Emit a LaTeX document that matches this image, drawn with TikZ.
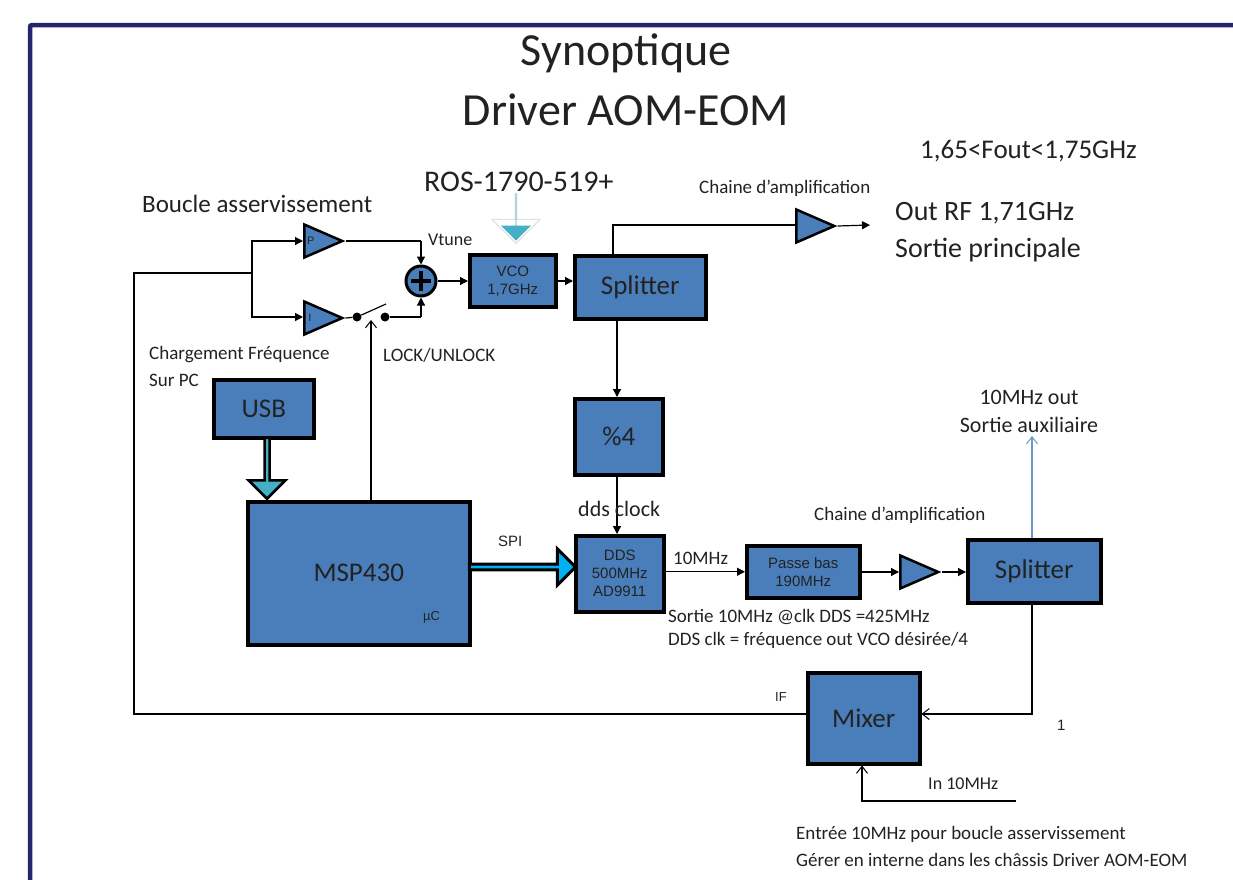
\documentclass[tikz,border=0pt]{standalone}
\usepackage{fontspec}
\setmainfont{Carlito}
\newfontfamily\arialf{Liberation Sans}
\usetikzlibrary{arrows.meta,shapes.geometric,shapes.arrows,calc}
\definecolor{boxblue}{HTML}{4A7EBB}
\definecolor{navy}{HTML}{25256F}
\definecolor{teal}{HTML}{45AFC6}
\definecolor{cyanb}{HTML}{00B0F0}
\definecolor{txt}{HTML}{222222}
\tikzset{
  blockbox/.style={draw=black,fill=boxblue,line width=3.5pt,inner sep=0pt,anchor=north west,text=txt},
  smallblock/.style={blockbox,font=\arialf\fontsize{15}{18}\selectfont,align=center},
  bigblock/.style={blockbox,font=\fontsize{27}{30}\selectfont},
  lab/.style={anchor=west,inner sep=0pt,text=txt,align=left},
  amp/.style={draw=black,fill=boxblue,line width=2.5pt,isosceles triangle,isosceles triangle stretches,minimum width=33pt,minimum height=38pt,inner sep=0pt,anchor=lower side,text=txt,font=\arialf\fontsize{11}{12}\selectfont},
  conn/.style={draw=black,line width=1.2pt},
  fl/.style={conn,-{Triangle[length=8pt,width=8pt]}},
  op/.style={conn,-{Straight Barb[length=7pt,width=11pt,line width=1pt]}},
}
\begin{document}
\begin{tikzpicture}[x=1pt,y=-1pt]
\useasboundingbox (0,0) rectangle (1233,879);
\fill[white] (0,0) rectangle (1233,879);
\draw[navy,line width=4.5pt,rounded corners=2pt] (30,885)--(30,25)--(1240,25);

% titles
\node[lab,anchor=center,font=\fontsize{46}{50}\selectfont] (t1) at (626,53) {Synoptique};
\node[lab,anchor=center,font=\fontsize{46}{50}\selectfont] (t2) at (626,110) {Driver AOM-EOM};

% blocks
\node[bigblock,minimum width=100pt,minimum height=58pt] (usb) at (212,378) {USB};
\node[bigblock,minimum width=222pt,minimum height=143pt] (msp) at (246,500) {MSP430};
\node[smallblock,minimum width=86pt,minimum height=52pt] (vco) at (468,253) {VCO\\1,7GHz};
\node[bigblock,minimum width=131pt,minimum height=63pt] (spa) at (573,254) {Splitter};
\node[bigblock,minimum width=88pt,minimum height=76pt] (div) at (573,397) {\%4};
\node[smallblock,minimum width=88pt,minimum height=76pt] (dds) at (574,534) {DDS\\500MHz\\AD9911};
\node[smallblock,minimum width=113pt,minimum height=52pt] (pb) at (745,544) {Passe bas\\190MHz};
\node[bigblock,minimum width=133pt,minimum height=63pt] (spb) at (966,538) {Splitter};
\node[bigblock,minimum width=112pt,minimum height=91pt] (mix) at (806,671) {Mixer};

% amplifiers
\node[amp] (ap) at (303,241) {P\hspace*{12pt}};
\node[amp] (ai) at (303,318) {I\hspace*{12pt}};
\node[amp] (a1) at (795,226) {};
\node[amp] (a2) at (899,572) {};

% summer
\node[circle,draw=black,fill=boxblue,line width=3pt,minimum size=30pt,inner sep=0pt,font=\bfseries\fontsize{30}{30}\selectfont] (sum) at (421,281) {};
\draw[black,line width=3.5pt] ($(sum.center)+(-10,0)$)--($(sum.center)+(10,0)$) ($(sum.center)+(0,-10)$)--($(sum.center)+(0,10)$);

% switch
\node[circle,fill=black,minimum size=9pt,inner sep=0pt] (s1) at (357,317) {};
\node[circle,fill=black,minimum size=9pt,inner sep=0pt] (s2) at (385,317) {};
\coordinate (blade) at (386,304);
\draw[black,line width=1.2pt] (s1)--(blade);

% junctions
\coordinate (j) at (252,273);
\coordinate (jp) at (252,241);
\coordinate (ji) at (252,317);
\coordinate (fbl) at (134,273);
\coordinate (fbb) at (134,714);
\coordinate (spt) at (613,225);
\coordinate (outr) at (870,225);
\coordinate (sumpc) at (421,241);
\coordinate (sumic) at (421,317);
\coordinate (lockt) at (371,320);
\coordinate (auxt) at (1032,436);
\coordinate (spbc) at (1032,714);
\coordinate (inr) at (1016,801);
\coordinate (inc) at (862,801);

% connectors
\draw[conn] (mix.west|-fbb)--(fbb)--(fbl)--(j);
\draw[fl] (j)--(jp)--(ap.lower side);
\draw[fl] (j)--(ji)--(ai.lower side|-ji);
\draw[conn] (ap.apex)--(sumpc);
\draw[fl] (sumpc)--(sum.north);
\draw[conn] (ai.apex)--(s1);
\draw[conn] (s2)--(sumic);
\draw[fl] (sumic)--(sum.south);
\draw[fl] (sum.east)--(vco.west|-sum);
\draw[fl] (vco.east|-sum)--(spa.west|-sum);
\draw[conn] (spa.north-|spt)--(spt)--(a1.lower side|-spt);
\draw[fl] (a1.apex)--(outr);
\draw[fl] (617,317)--(617,397);
\draw[fl] (617,473)--(617,534);
\draw[op] (msp.north-|lockt)--(lockt);
\draw[fl] (dds.east|-pb)--(pb.west);
\draw[fl] (pb.east|-a2)--(a2.lower side);
\draw[fl] (a2.apex)--(spb.west|-a2);
\draw[line width=1.2pt,draw=boxblue!80!white,-{Straight Barb[length=7pt,width=11pt,line width=1pt]}] (spb.north-|auxt)--(auxt);
\draw[op] (spb.south-|spbc)--(spbc)--(mix.east|-spbc);
\draw[op] (inr)--(inc)--(mix.south-|inc);

% block arrows
\node[single arrow,draw=black,fill=teal,line width=2.5pt,minimum height=61pt,minimum width=37pt,single arrow head extend=8pt,single arrow tip angle=90,inner sep=0pt,rotate=-90] (uarrow) at (267,467) {};
\node[single arrow,draw=black,fill=cyanb,line width=3pt,minimum height=106pt,minimum width=36pt,single arrow head extend=8pt,single arrow tip angle=90,inner sep=0pt] (sarrow) at (521,567) {};
\node[single arrow,fill=white,draw=black!12,line width=1pt,minimum height=50pt,minimum width=48pt,single arrow head extend=14pt,single arrow tip angle=90,inner sep=0pt,rotate=-90] (rosw) at (516,218) {};
\node[single arrow,fill=teal,minimum height=47pt,minimum width=30pt,single arrow head extend=7pt,single arrow tip angle=90,inner sep=0pt,rotate=-90] (rosa) at (516,217) {};

% labels
\node[lab,font=\fontsize{30}{34}\selectfont] (l1) at (424,182) {ROS-1790-519+};
\node[lab,font=\fontsize{25}{29}\selectfont] (l2) at (142,204) {Boucle asservissement};
\node[lab,font=\fontsize{27}{31}\selectfont] (l3) at (920,151) {1,65<Fout<1,75GHz};
\node[lab,font=\fontsize{19}{22}\selectfont] (l4) at (699,188) {Chaine d’amplification};
\node[lab,font=\fontsize{28}{37}\selectfont] (l5) at (895,232) {Out RF 1,71GHz\\Sortie principale};
\node[lab,font=\fontsize{18}{20}\selectfont] (l6) at (428,240) {Vtune};
\node[lab,font=\fontsize{19}{27}\selectfont] (l7) at (149,366) {Chargement Fréquence\\Sur PC};
\node[lab,font=\fontsize{19}{22}\selectfont] (l8) at (383,355) {LOCK/UNLOCK};
\node[lab,font=\fontsize{22}{28}\selectfont,align=center,anchor=center] (l9) at (1029,411) {10MHz out\\Sortie auxiliaire};
\node[lab,font=\fontsize{22}{26}\selectfont] (l10) at (578,509) {dds clock};
\node[lab,font=\fontsize{19}{22}\selectfont] (l11) at (814,515) {Chaine d’amplification};
\node[lab,font=\arialf\fontsize{15}{18}\selectfont] (l12) at (498,541) {SPI};
\node[lab,font=\fontsize{19}{22}\selectfont] (l13) at (673,558) {10MHz};
\node[lab,font=\fontsize{19}{23.5}\selectfont] (l14) at (668,629) {Sortie 10MHz @clk DDS =425MHz\\DDS clk = fréquence out VCO désirée/4};
\node[lab,font=\arialf\fontsize{13}{15}\selectfont] (l15) at (775,697) {IF};
\node[lab,font=\fontsize{18}{20}\selectfont] (l16) at (928,784) {In 10MHz};
\node[lab,font=\arialf\fontsize{15}{18}\selectfont] (l17) at (1057,725) {1};
\node[lab,font=\arialf\fontsize{13}{15}\selectfont] (l18) at (423,617) {µC};
\node[lab,font=\fontsize{19}{27}\selectfont] (l19) at (796,846) {Entrée 10MHz pour boucle asservissement\\Gérer en interne dans les châssis Driver AOM-EOM};
\end{tikzpicture}
\end{document}
